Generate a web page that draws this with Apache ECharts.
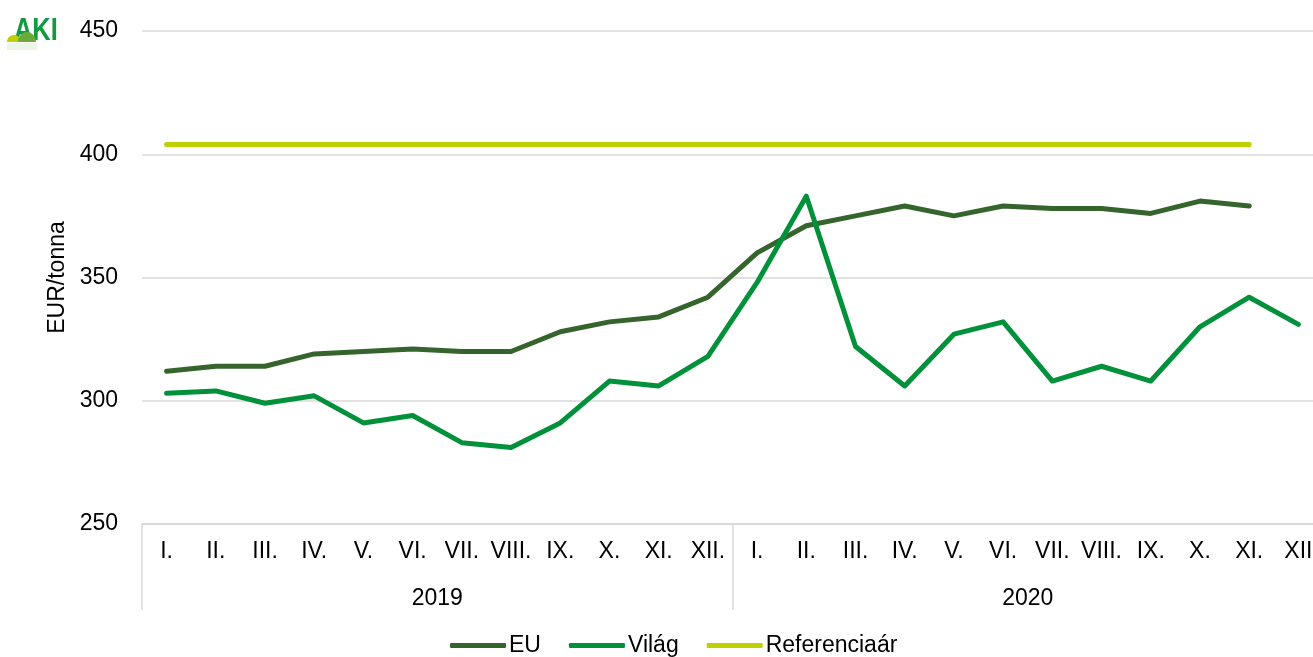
<!DOCTYPE html>
<html>
<head>
<meta charset="utf-8">
<script src="https://cdn.jsdelivr.net/npm/echarts@6/dist/echarts.min.js"></script>
<style>
  html, body { margin: 0; padding: 0; background: #fff; overflow: hidden; }
  #chart { width: 1313px; height: 657px; }
</style>
</head>
<body>
<div id="chart"></div>
<script>
// havi kategóriák, két év
const months = ['I.', 'II.', 'III.', 'IV.', 'V.', 'VI.', 'VII.', 'VIII.', 'IX.', 'X.', 'XI.', 'XII.',
                'I.', 'II.', 'III.', 'IV.', 'V.', 'VI.', 'VII.', 'VIII.', 'IX.', 'X.', 'XI.', 'XII']
const years = ['2019', '2020']

const euData = [312, 314, 314, 319, 320, 321, 320, 320, 328, 332, 334, 342,
                360, 371, 375, 379, 375, 379, 378, 378, 376, 381, 379, null]
const vilagData = [303, 304, 299, 302, 291, 294, 283, 281, 291, 308, 306, 318,
                   348, 383, 322, 306, 327, 332, 308, 314, 308, 330, 342, 331]
const refData = [404, 404, 404, 404, 404, 404, 404, 404, 404, 404, 404, 404,
                 404, 404, 404, 404, 404, 404, 404, 404, 404, 404, 404, null]

const font = 'Liberation Sans, Arial, sans-serif'
const gridGray = '#d9d9d9'

const chart = echarts.init(document.getElementById('chart'))

const lineSeries = (name, data, color) => ({
  name,
  type: 'line',
  data,
  symbol: 'none',
  connectNulls: false,
  lineStyle: { width: 5, color, cap: 'round', join: 'round' },
  itemStyle: { color }
})

chart.setOption({
  animation: false,
  textStyle: { fontFamily: font },
  // a rács jobb széle kilóg a képből, mint az eredetin
  grid: { left: 142, width: 1181, top: 31, bottom: 133, outerBoundsMode: 'none' },
  legend: {
    left: 450,
    top: 634,
    padding: 0,
    itemWidth: 56,
    itemHeight: 5,
    itemGap: 28,
    icon: 'roundRect',
    textStyle: { fontSize: 23, color: '#000', fontFamily: font, padding: [0, 0, 0, -2] },
    data: ['EU', 'Világ', 'Referenciaár']
  },
  xAxis: [
    {
      type: 'category',
      data: months,
      boundaryGap: true,
      axisLine: { show: true, lineStyle: { color: gridGray, width: 2 } },
      axisTick: { show: false },
      axisLabel: { color: '#000', fontSize: 23, margin: 16, interval: 0, fontFamily: font }
    },
    {
      type: 'category',
      data: years,
      position: 'bottom',
      boundaryGap: true,
      axisLine: { show: false },
      axisTick: { show: true, length: 86, lineStyle: { color: gridGray, width: 1.5 } },
      axisLabel: { color: '#000', fontSize: 23, margin: 63, fontFamily: font }
    }
  ],
  yAxis: {
    type: 'value',
    min: 250,
    max: 450,
    interval: 50,
    name: 'EUR/tonna',
    nameLocation: 'middle',
    nameGap: 72,
    nameTextStyle: { fontSize: 23, color: '#000', fontFamily: font },
    axisLine: { show: false },
    axisTick: { show: false },
    axisLabel: { color: '#000', fontSize: 23, margin: 24, fontFamily: font },
    splitLine: { lineStyle: { color: gridGray, width: 1.5 } }
  },
  graphic: [
    // AKI logó (egyszerűsítve)
    {
      type: 'text', x: 14, y: 16, scaleX: 0.82,
      style: { text: 'AKI', font: 'bold 31px ' + font, fill: '#129a3e' }
    },
    { type: 'ellipse', shape: { cx: 14, cy: 42, rx: 7, ry: 7 }, style: { fill: '#bfd000' } },
    { type: 'ellipse', shape: { cx: 27, cy: 42, rx: 9, ry: 10 }, style: { fill: '#6aaa3a' } },
    { type: 'rect', shape: { x: 0, y: 42, width: 40, height: 14 }, style: { fill: '#fff' } },
    { type: 'rect', shape: { x: 7, y: 43, width: 30, height: 7 }, style: { fill: 'rgba(106,170,58,0.12)' } }
  ],
  series: [
    lineSeries('EU', euData, '#35652d'),
    lineSeries('Világ', vilagData, '#00913a'),
    lineSeries('Referenciaár', refData, '#bfd000')
  ]
})
</script>
</body>
</html>
